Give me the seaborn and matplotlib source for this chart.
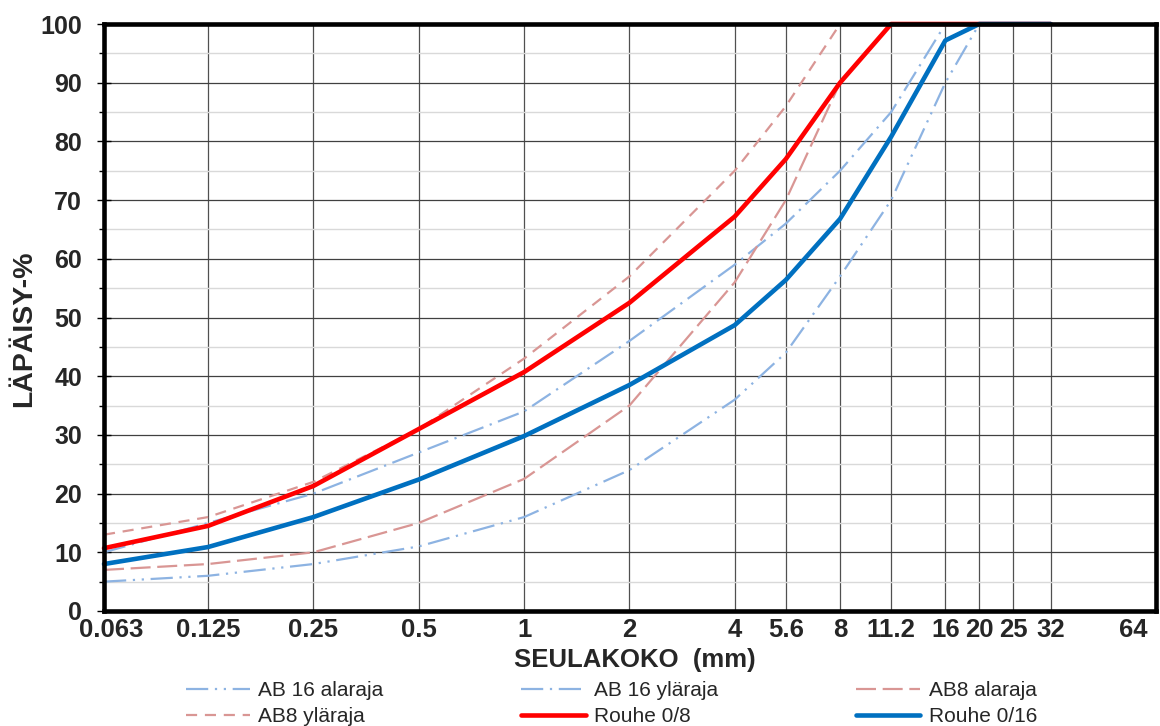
import matplotlib
matplotlib.use("Agg")
import matplotlib.pyplot as plt
import matplotlib.ticker as mticker
import matplotlib.transforms as mtrans
import seaborn as sns
import pandas as pd

# ---------------- data ----------------
tick_values = [0.063, 0.125, 0.25, 0.5, 1, 2, 4, 5.6, 8, 11.2, 16, 20, 25, 32, 64]
tick_labels = ["0.063", "0.125", "0.25", "0.5", "1", "2", "4", "5.6", "8", "11.2", "16", "20", "25", "32", "64"]

ab16_ala_x = [0.063, 0.125, 0.25, 0.5, 1, 2, 4, 5.6, 8, 11.2, 16, 20]
ab16_ala_y = [5, 6, 8, 11, 16, 24, 36, 44, 57, 70, 90, 100]

ab16_yla_x = [0.063, 0.125, 0.25, 0.5, 1, 2, 4, 5.6, 8, 11.2, 16, 20]
ab16_yla_y = [10, 15, 20, 27, 34, 46, 59, 66, 75, 85, 100, 100]

ab8_ala_x = [0.063, 0.125, 0.25, 0.5, 1, 2, 4, 5.6, 8, 11.2]
ab8_ala_y = [7, 8, 10, 15, 22.5, 35, 56, 70, 90, 100]

ab8_yla_x = [0.063, 0.125, 0.25, 0.5, 1, 2, 4, 5.6, 8, 11.2]
ab8_yla_y = [13, 16, 22, 31, 43, 57, 75, 86, 100, 100]

rouhe08_x = [0.063, 0.125, 0.25, 0.5, 1, 2, 4, 5.6, 8, 11.2, 16, 20, 25, 32]
rouhe08_y = [10.7, 14.5, 21.3, 31, 40.7, 52.5, 67.2, 77, 90, 100, 100, 100, 100, 100]

rouhe016_x = [0.063, 0.125, 0.25, 0.5, 1, 2, 4, 5.6, 8, 11.2, 16, 20, 25, 32]
rouhe016_y = [8, 10.9, 16, 22.4, 29.8, 38.5, 48.7, 56.4, 66.8, 80.8, 97.2, 100, 100, 100]

# ---------------- style ----------------
sns.set_theme(style="white")
plt.rcParams["font.family"] = ["Liberation Sans", "DejaVu Sans"]

fig = plt.figure(figsize=(11.6, 7.26), dpi=100)
ax = fig.add_axes([104 / 1160, 1 - 611 / 726, 1052 / 1160, 587 / 726])

light_blue = "#8db3e2"
pink = "#d99694"
red = "#ff0000"
blue = "#0070c0"

series = [
    ("AB 16 alaraja", ab16_ala_x, ab16_ala_y, light_blue, 1.6, (0, (10, 3, 1, 3, 1, 3))),
    ("AB 16 yläraja", ab16_yla_x, ab16_yla_y, light_blue, 1.6, (0, (10, 3, 1, 3))),
    ("AB8 alaraja", ab8_ala_x, ab8_ala_y, pink, 1.6, (0, (9, 3))),
    ("AB8 yläraja", ab8_yla_x, ab8_yla_y, pink, 1.6, (0, (5, 3.5))),
    ("Rouhe 0/8", rouhe08_x, rouhe08_y, red, 3.3, "-"),
    ("Rouhe 0/16", rouhe016_x, rouhe016_y, blue, 3.3, "-"),
]

handles = {}
for i, (name, xs, ys, col, lw, ls) in enumerate(series):
    df = pd.DataFrame({"x": xs, "y": ys})
    sns.lineplot(data=df, x="x", y="y", ax=ax, color=col, linewidth=lw,
                 linestyle=ls, sort=False, estimator=None, clip_on=False,
                 zorder=2 + i * 0.01)
    handles[name] = ax.lines[-1]

ax.set_xscale("log", base=2)
ax.set_xlim(0.063, 64)
ax.set_ylim(0, 100)

ax.xaxis.set_major_locator(mticker.FixedLocator(tick_values))
ax.xaxis.set_major_formatter(mticker.FixedFormatter(tick_labels))
ax.xaxis.set_minor_locator(mticker.NullLocator())
ax.yaxis.set_major_locator(mticker.MultipleLocator(10))
ax.yaxis.set_minor_locator(mticker.MultipleLocator(5))

ax.set_axisbelow(True)
ax.grid(axis="y", which="major", color="#404040", linewidth=0.9)
ax.grid(axis="y", which="minor", color="#d9d9d9", linewidth=1.0)
ax.grid(axis="x", which="major", color="#505050", linewidth=0.9)

for sp in ax.spines.values():
    sp.set_visible(True)
    sp.set_color("black")
    sp.set_linewidth(3.3)
    sp.set_zorder(5)

ax.tick_params(axis="y", which="major", direction="inout", length=9.4, width=1.0,
               color="black", left=True, pad=11, labelsize=18)
ax.tick_params(axis="y", which="minor", direction="out", length=3.5, width=1.0,
               color="black", left=True)
ax.tick_params(axis="x", which="major", length=0, pad=5, labelsize=18.5)

for lab in ax.get_xticklabels() + ax.get_yticklabels():
    lab.set_fontweight("bold")

xl = ax.get_xticklabels()
# first label sits slightly right of the left spine, "64" sits left of the right spine
xl[0].set_transform(xl[0].get_transform() + mtrans.ScaledTranslation(7 / 100, 0, fig.dpi_scale_trans))
xl[-1].set_transform(xl[-1].get_transform() + mtrans.ScaledTranslation(-23 / 100, 0, fig.dpi_scale_trans))

ax.set_xlabel("SEULAKOKO  (mm)", fontsize=18.5, fontweight="bold")
ax.set_ylabel("LÄPÄISY-%", fontsize=20.5, fontweight="bold")
ax.xaxis.set_label_coords(0.505, -0.083)
ax.xaxis.label.set_va("center")
ax.yaxis.set_label_coords(-0.076, 0.48)
ax.yaxis.label.set_va("center")

order = ["AB 16 alaraja", "AB8 yläraja", "AB 16 yläraja", "Rouhe 0/8", "AB8 alaraja", "Rouhe 0/16"]
leg = fig.legend([handles[n] for n in order], order, loc="center",
                 bbox_to_anchor=(0.527, 0.031), ncol=3, frameon=False, fontsize=15,
                 handlelength=3.1, handletextpad=0.4, columnspacing=6.6,
                 labelspacing=0.35, borderaxespad=0, borderpad=0)
if ax.get_legend() is not None:
    ax.get_legend().remove()

fig.savefig("out.png", dpi=100)
